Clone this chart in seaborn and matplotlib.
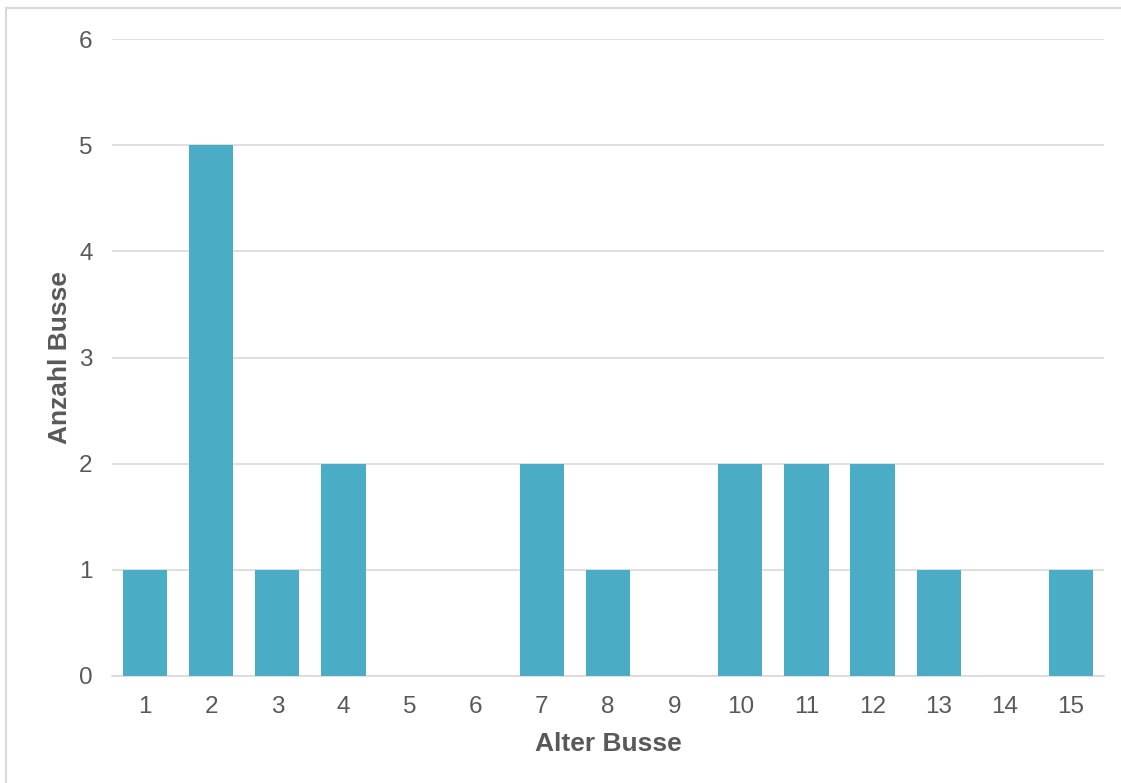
import numpy as np
import pandas as pd
import seaborn as sns
import matplotlib.pyplot as plt
from matplotlib.patches import Rectangle

alter = [str(i) for i in range(1, 16)]
anzahl = [1, 5, 1, 2, 0, 0, 2, 1, 0, 2, 2, 2, 1, 0, 1]

df = pd.DataFrame({'Alter Busse': alter, 'Anzahl Busse': anzahl})

sns.set_style('white')
plt.rcParams['font.family'] = ['Liberation Sans', 'DejaVu Sans']

fig = plt.figure(figsize=(11.21, 7.83), dpi=100)
ax = fig.add_axes([112 / 1121, 1 - 676 / 783, (1104 - 112) / 1121, (676 - 39) / 783])

sns.barplot(data=df, x='Alter Busse', y='Anzahl Busse', color='#4BACC6',
            saturation=1, width=0.67, edgecolor='#4BACC6', linewidth=0,
            ax=ax, zorder=3)

ax.set_ylim(0, 6)
ax.set_xlim(-0.5, 14.5)
ax.set_yticks(range(0, 7))
ax.grid(axis='y', color='#D9D9D9', linewidth=1.2, zorder=0)
for s in ['top', 'right', 'left']:
    ax.spines[s].set_visible(False)
ax.spines['bottom'].set_color('#D9D9D9')
ax.spines['bottom'].set_linewidth(1.2)
ax.tick_params(axis='both', length=0, labelsize=17.5, labelcolor='#595959')
ax.tick_params(axis='x', pad=14.5)
ax.tick_params(axis='y', pad=14)
ax.set_xlabel('Alter Busse', fontsize=19, fontweight='bold', color='#595959', labelpad=10)
ax.set_ylabel('Anzahl Busse', fontsize=19, fontweight='bold', color='#595959', labelpad=5)

fig.patches.append(Rectangle((6 / 1121, -0.01), 1.02, 1 - 8 / 783 + 0.01,
                             transform=fig.transFigure, fill=False,
                             edgecolor='#D9D9D9', linewidth=1.5))

fig.savefig('out.png', dpi=100)
